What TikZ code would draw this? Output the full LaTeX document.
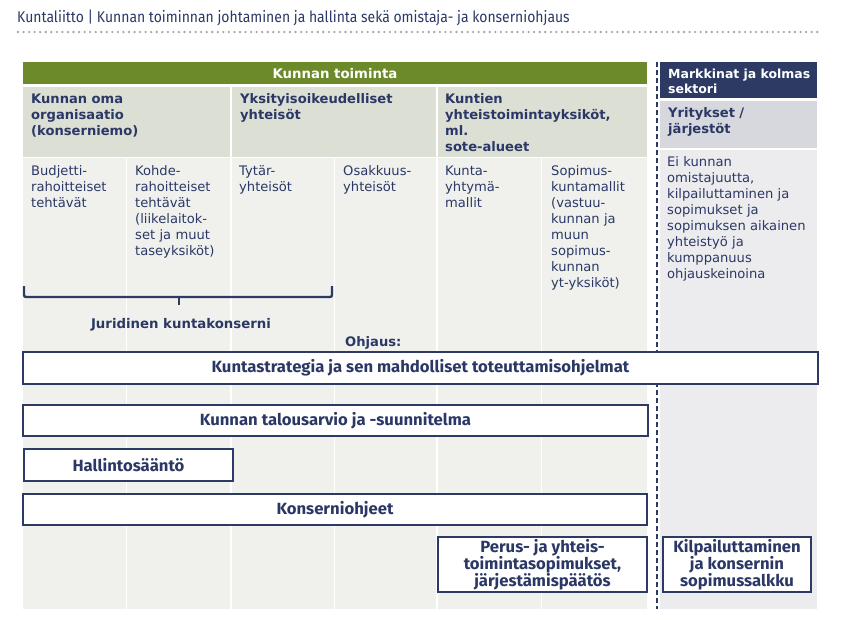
\documentclass[tikz,border=0pt]{standalone}
\usepackage{fontspec}
\setmainfont{DejaVu Sans}
\newfontfamily\condfont[FakeStretch=0.90]{Fira Sans}
\newfontfamily\boxfont[FakeStretch=1.03]{Fira Sans}
\definecolor{kgreen}{HTML}{6D8A2B}
\definecolor{khdr}{HTML}{DCDFD3}
\definecolor{klight}{HTML}{F0F1EC}
\definecolor{knavy}{HTML}{2C3A64}
\definecolor{krgrey}{HTML}{D7D8DD}
\definecolor{krlight}{HTML}{ECECEE}
\definecolor{ktext}{HTML}{2B3866}
\definecolor{kdots}{HTML}{A8A8A8}
\tikzset{
  body/.style={anchor=base west, inner sep=0pt, text=ktext, align=left, text width=#1,
    font=\fontsize{13.1}{16}\selectfont},
  body/.default=110pt,
  head/.style={anchor=base west, inner sep=0pt, text=ktext, align=left, text width=#1,
    font=\fontsize{13.1}{16}\selectfont\bfseries},
  head/.default=200pt,
  box/.style={draw=knavy, line width=2.2pt, fill=white, text=ktext, align=center,
    inner sep=0pt, font=\boxfont\fontsize{16.2}{17}\selectfont\bfseries},
}
\begin{document}
\begin{tikzpicture}[x=1pt,y=-1pt]
\useasboundingbox (0,0) rectangle (851,619);
% title
\node[anchor=base west, inner sep=0pt, text=ktext, font=\condfont\fontsize{15.5}{17}\selectfont] (title) at (17,22) {Kuntaliitto | Kunnan toiminnan johtaminen ja hallinta sekä omistaja- ja konserniohjaus};
\coordinate (dotsL) at (18,32);
\coordinate (dotsR) at (818,32);
\draw[kdots, line width=2.6pt, line cap=round, dash pattern=on 0pt off 5.55pt] (dotsL) -- (dotsR);
% green bar
\fill[kgreen] (23,62) rectangle (647,84);
\node[anchor=base, inner sep=0pt, text=white, font=\fontsize{13.3}{15}\selectfont\bfseries] (kt) at (335,78) {Kunnan toiminta};
% header cells
\fill[khdr] (23,87) rectangle (230,157);
\fill[khdr] (232,87) rectangle (436,157);
\fill[khdr] (438,87) rectangle (647,157);
% lower cells
\foreach \a/\b in {23/125.5,126.5/230,232/333.5,334.5/436,438/540.5,541.5/647}
  \fill[klight] (\a,158) rectangle (\b,609);
% right column
\fill[knavy] (660,62) rectangle (817,98);
\fill[krgrey] (660,101) rectangle (817,148);
\fill[krlight] (660,150) rectangle (817,609);
\coordinate (dashT) at (657,62);
\coordinate (dashB) at (657,609);
\draw[knavy, line width=2pt, dash pattern=on 5pt off 3pt] (dashT) -- (dashB);
% header texts
\node[head] (h1) at (31,103) {Kunnan oma\\organisaatio\\(konserniemo)};
\node[head] (h2) at (240,103) {Yksityisoikeudelliset\\yhteisöt};
\node[head] (h3) at (445,103) {Kuntien\\yhteistoimintayksiköt,\\ml.\\sote-alueet};
\node[head=150pt, text=white, font=\fontsize{12.5}{15}\selectfont\bfseries] (m1) at (668,78) {Markkinat ja kolmas\\sektori};
\node[head=150pt] (m2) at (668,117) {Yritykset /\\järjestöt};
% sub texts
\node[body] (s1) at (31,175) {Budjetti-\\rahoitteiset\\tehtävät};
\node[body] (s2) at (135,175) {Kohde-\\rahoitteiset\\tehtävät\\(liikelaitok-\\set ja muut\\taseyksiköt)};
\node[body] (s3) at (239,175) {Tytär-\\yhteisöt};
\node[body] (s4) at (343,175) {Osakkuus-\\yhteisöt};
\node[body] (s5) at (445,175) {Kunta-\\yhtymä-\\mallit};
\node[body] (s6) at (551,175) {Sopimus-\\kuntamallit\\(vastuu-\\kunnan ja\\muun\\sopimus-\\kunnan\\yt-yksiköt)};
\node[body=150pt] (r1) at (667,166) {Ei kunnan\\omistajuutta,\\kilpailuttaminen ja\\sopimukset ja\\sopimuksen aikainen\\yhteistyö ja\\kumppanuus\\ohjauskeinoina};
% brace
\coordinate (brL) at (24,286);
\coordinate (brR) at (332,286);
\coordinate (brM) at (179,297);
\coordinate (brT) at (179,305);
\draw[knavy, line width=2.4pt, rounded corners=2pt] (brL) |- (brM) -| (brR);
\draw[knavy, line width=2.4pt] (brM) -- (brT);
\node[anchor=base, inner sep=0pt, text=ktext, font=\fontsize{13.3}{15}\selectfont\bfseries] (jur) at (181,328) {Juridinen kuntakonserni};
\node[anchor=base west, inner sep=0pt, text=ktext, font=\fontsize{13.1}{15}\selectfont\bfseries] (ohj) at (345,346) {Ohjaus:};
% boxes
\node[box, minimum width=795pt, minimum height=32pt] (strat) at (420.5,368) {Kuntastrategia ja sen mahdolliset toteuttamisohjelmat};
\node[box, minimum width=625pt, minimum height=31pt] (talo) at (335.5,420.5) {Kunnan talousarvio ja -suunnitelma};
\node[box, minimum width=209pt, minimum height=32pt] (hall) at (128.5,465) {Hallintosääntö};
\node[box, minimum width=624pt, minimum height=31pt] (kons) at (335,509.5) {Konserniohjeet};
\node[box, minimum width=209pt, minimum height=55pt] (perus) at (542.5,564.5) {Perus- ja yhteis-\\toimintasopimukset,\\järjestämispäätös};
\node[box, minimum width=148pt, minimum height=55pt] (kilp) at (737,564.5) {Kilpailuttaminen\\ja konsernin\\sopimussalkku};
\end{tikzpicture}
\end{document}
